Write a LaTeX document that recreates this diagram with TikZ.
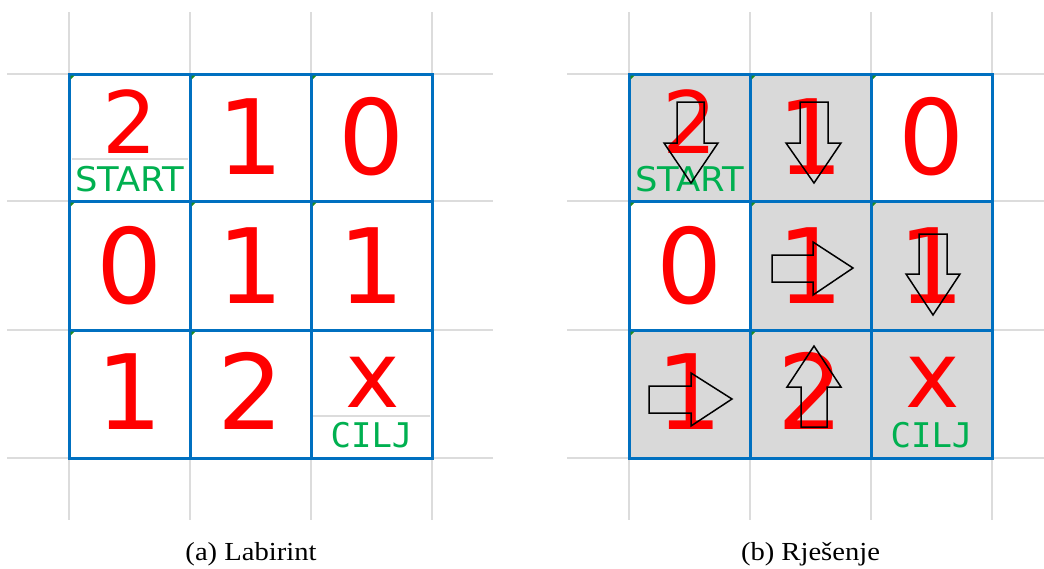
\documentclass[tikz,border=0pt]{standalone}
\usepackage{fontspec}
\setmainfont{Liberation Serif}
\newfontfamily\capfont[FakeStretch=1.1]{Liberation Serif}
\newfontfamily\digitfont{DejaVu Sans}
\newfontfamily\tagfont[FakeStretch=1.04]{DejaVu Sans}
\newfontfamily\labelmono{DejaVu Sans Mono}
\definecolor{xlblue}{HTML}{0070C0}
\definecolor{xlgreen}{HTML}{00B050}
\definecolor{xlgrey}{HTML}{D9D9D9}
\definecolor{gridgrey}{HTML}{DCDCDC}
\definecolor{flaggreen}{HTML}{1E8C1E}
\newcommand\mazebase[1]{%
  % light spreadsheet gridlines
  \foreach \gx in {69,190,311,432} {\draw[gridline] (\gx,12) -- (\gx,520);}
  \foreach \gy in {74,201,330,458} {\draw[gridline] (7,\gy) -- (#1,\gy);}
}
\newcommand\mazecells{%
  \draw[border] (69,74) rectangle (432,458);
  \draw[border] (190,74) -- (190,458);
  \draw[border] (311,74) -- (311,458);
  \draw[border] (69,201) -- (432,201);
  \draw[border] (69,330) -- (432,330);
  \foreach \fx/\fy in {69/74,190/74,311/74,69/201,190/201,311/201,69/330,190/330}
    {\fill[flaggreen] (\fx+1.6,\fy+1.6) -- (\fx+5.5,\fy+1.6) -- (\fx+1.6,\fy+5.5) -- cycle;}
}
\begin{document}
\begin{tikzpicture}[x=1pt,y=-1pt,
  gridline/.style={draw=gridgrey,line width=1.8pt},
  border/.style={draw=xlblue,line width=3pt},
  shade/.style={fill=xlgrey},
  num/.style={font=\digitfont\fontsize{104}{104}\selectfont,text=red,anchor=base,inner sep=0pt},
  smallnum/.style={num,font=\digitfont\fontsize{86}{86}\selectfont},
  crossmark/.style={num,font=\digitfont\fontsize{92}{92}\selectfont},
  tag/.style={font=\tagfont\fontsize{34}{34}\selectfont,text=xlgreen,anchor=base,inner sep=0pt},
  tagmono/.style={font=\labelmono\fontsize{34}{34}\selectfont,text=xlgreen,anchor=base,inner sep=0pt},
  blockarrow/.style={draw=black,line width=1.5pt,line join=miter},
  caption/.style={font=\capfont\fontsize{26}{26}\selectfont,anchor=base,inner sep=0pt}
]
\useasboundingbox (0,0) rectangle (1044,568);

% ---------------- (a) Labirint ----------------
\begin{scope}
  \mazebase{493}
  \draw[gridline] (72,159) -- (188,159);
  \draw[gridline] (313,416) -- (430,416);
  \mazecells
  \node[smallnum] (a00) at (129.5,153) {2};
  \node[num] (a01) at (250.5,174) {1};
  \node[num] (a02) at (371.5,174) {0};
  \node[num] (a10) at (129.5,303) {0};
  \node[num] (a11) at (250.5,303) {1};
  \node[num] (a12) at (371.5,303) {1};
  \node[num] (a20) at (129.5,429) {1};
  \node[num] (a21) at (250.5,429) {2};
  \node[crossmark] (a22) at (372.5,407) {x};
  \node[tag] (astart) at (130,191) {START};
  \node[tagmono] (acilj) at (371.5,447) {CILJ};
  \node[caption] (acap) at (251,560) {(a) Labirint};
\end{scope}

% ---------------- (b) Rješenje ----------------
\begin{scope}[xshift=560pt]
  \mazebase{484}
  \fill[shade] (69,74) rectangle (311,201);
  \fill[shade] (190,201) rectangle (432,330);
  \fill[shade] (69,330) rectangle (432,458);
  \mazecells
  \node[smallnum] (b00) at (129.5,153) {2};
  \node[num] (b01) at (250.5,174) {1};
  \node[num] (b02) at (371.5,174) {0};
  \node[num] (b10) at (129.5,303) {0};
  \node[num] (b11) at (250.5,303) {1};
  \node[num] (b12) at (371.5,303) {1};
  \node[num] (b20) at (129.5,429) {1};
  \node[num] (b21) at (250.5,429) {2};
  \node[crossmark] (b22) at (372.5,407) {x};
  \node[tag] (bstart) at (130,191) {START};
  \node[tagmono] (bcilj) at (371.5,447) {CILJ};
  % solution arrows
  \draw[blockarrow] (117,102) -- (144,102) -- (144,143) -- (158,143) -- (131,183) -- (104,143) -- (117,143) -- cycle;
  \draw[blockarrow] (240,102) -- (268,102) -- (268,143) -- (281,143) -- (254,183) -- (226,143) -- (240,143) -- cycle;
  \draw[blockarrow] (212,255) -- (253,255) -- (253,242) -- (293,268) -- (253,295) -- (253,282) -- (212,282) -- cycle;
  \draw[blockarrow] (359,234) -- (387,234) -- (387,274) -- (400,274) -- (373,315) -- (346,274) -- (359,274) -- cycle;
  \draw[blockarrow] (89,386) -- (131,386) -- (131,373) -- (172,399) -- (131,426) -- (131,413) -- (89,413) -- cycle;
  \draw[blockarrow] (241,427) -- (267,427) -- (267,387) -- (281,387) -- (254,346) -- (227,387) -- (241,387) -- cycle;
  \node[caption] (bcap) at (250.5,560) {(b) Rješenje};
\end{scope}
\end{tikzpicture}
\end{document}
